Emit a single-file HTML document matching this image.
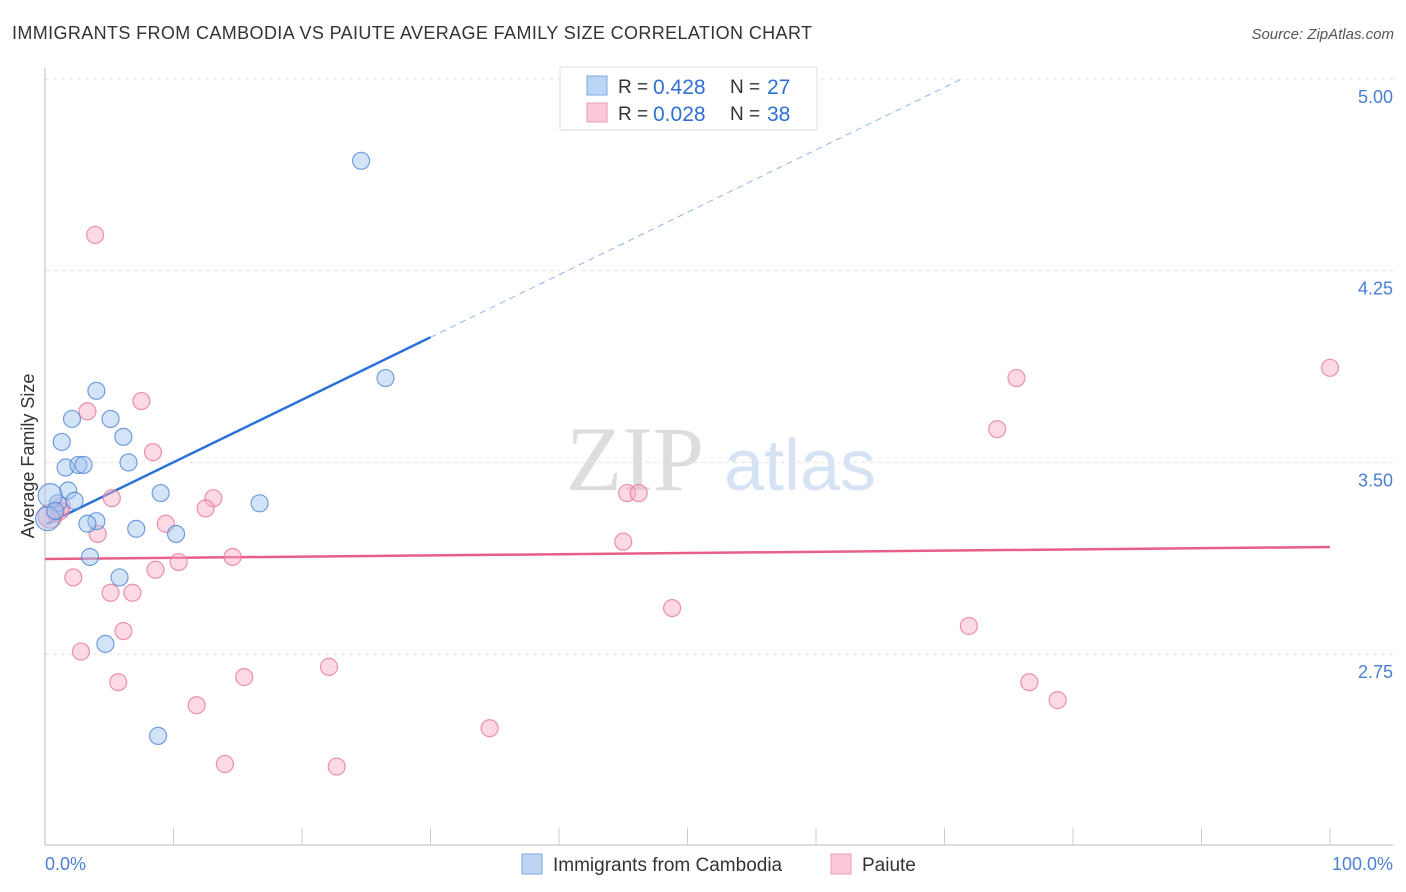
<!DOCTYPE html>
<html><head><meta charset="utf-8"><style>
body{margin:0;background:#fff;font-family:"Liberation Sans",sans-serif;}
svg{display:block}
</style></head><body>
<svg width="1406" height="892" viewBox="0 0 1406 892">
<text x="12" y="39" font-size="18" fill="#333" textLength="800">IMMIGRANTS FROM CAMBODIA VS PAIUTE AVERAGE FAMILY SIZE CORRELATION CHART</text>
<text x="1394" y="39" font-size="15" fill="#555" font-style="italic" text-anchor="end">Source: ZipAtlas.com</text>
<g><text x="635" y="490" font-size="92" fill="#ddd" font-family="Liberation Serif,serif" text-anchor="middle">ZIP</text><text x="800" y="490" font-size="72" fill="#d5e3f5" text-anchor="middle">atlas</text></g>
<g id="grid"></g>
<g id="axes"></g>
<g id="trend"></g>
<g id="pts"></g>
<text transform="translate(34,456) rotate(-90)" font-size="18" fill="#333" text-anchor="middle">Average Family Size</text>
<text x="45" y="870" font-size="18" fill="#4a7fd4">0.0%</text>
<text x="1393" y="870" font-size="18" fill="#4a7fd4" text-anchor="end">100.0%</text>
<g>
<rect x="560" y="67" width="257" height="63" fill="#fff" stroke="#ddd"/>
<rect x="587" y="76" width="20" height="19" fill="#bcd5f5" stroke="#7aa6e0"/>
<text x="618" y="93" font-size="19" fill="#333">R =</text>
<text x="653" y="94" font-size="21" fill="#2f6fd6">0.428</text>
<text x="730" y="93" font-size="19" fill="#333">N =</text>
<text x="767" y="94" font-size="21" fill="#2f6fd6">27</text>
<rect x="587" y="103" width="20" height="19" fill="#fcc9d8" stroke="#eaa0b8"/>
<text x="618" y="120" font-size="19" fill="#333">R =</text>
<text x="653" y="121" font-size="21" fill="#2f6fd6">0.028</text>
<text x="730" y="120" font-size="19" fill="#333">N =</text>
<text x="767" y="121" font-size="21" fill="#2f6fd6">38</text>
</g>
<g>
<rect x="522" y="854" width="20" height="20" fill="#bcd5f5" stroke="#7aa6e0"/>
<text x="553" y="871" font-size="19" fill="#333">Immigrants from Cambodia</text>
<rect x="831" y="854" width="20" height="20" fill="#fcc9d8" stroke="#eaa0b8"/>
<text x="862" y="871" font-size="19" fill="#333">Paiute</text>
</g>
</svg>
<script>
const yTicks=[5.00,4.25,3.50,2.75];
const blueX=[24.6,26.5,4.0,2.1,5.1,1.3,6.1,1.6,2.6,3.0,6.5,1.8,2.3,9.0,1.0,16.7,0.4,0.2,4.0,3.3,7.1,10.2,3.5,5.8,4.7,8.8,0.8];
const blueY=[4.68,3.83,3.78,3.67,3.67,3.58,3.60,3.48,3.49,3.49,3.50,3.39,3.35,3.38,3.34,3.34,3.37,3.28,3.27,3.26,3.24,3.22,3.13,3.05,2.79,2.43,3.31];
const pinkX=[3.9,7.5,3.3,8.4,5.2,13.1,12.5,45.3,46.2,9.4,4.1,1.3,0.8,45.0,14.6,10.4,8.6,2.2,5.1,6.8,48.8,6.1,2.8,22.1,15.5,5.7,11.8,34.6,14.0,22.7,75.6,74.1,100,71.9,76.6,78.8,0.4,1.2];
const pinkY=[4.39,3.74,3.70,3.54,3.36,3.36,3.32,3.38,3.38,3.26,3.22,3.33,3.30,3.19,3.13,3.11,3.08,3.05,2.99,2.99,2.93,2.84,2.76,2.70,2.66,2.64,2.55,2.46,2.32,2.31,3.83,3.63,3.87,2.86,2.64,2.57,3.29,3.31];
const blueTrend=[3.256,0.02445];
const pinkTrend=[3.122,0.00047];
const NS='http://www.w3.org/2000/svg';
const sx=v=>45+v*12.85, sy=v=>79+(5-v)*255.6;
function mk(tag,attrs,parent){const e=document.createElementNS(NS,tag);for(const k in attrs)e.setAttribute(k,attrs[k]);document.getElementById(parent).appendChild(e);return e;}
yTicks.forEach(t=>{
 const l=mk('line',{x1:45,x2:1393,y1:sy(t),y2:sy(t),stroke:'#e2e2e2','stroke-dasharray':'4,4'},'grid');
 
 
 const tx=mk('text',{x:1393,y:sy(t)+24,'font-size':18,fill:'#4a7fd4','text-anchor':'end'},'grid');
 tx.textContent=t.toFixed(2);
 
 
});
let a=mk('line',{x1:45,x2:45,y1:68,y2:845,stroke:'#bbb'},'axes');


a=mk('line',{x1:45,x2:1393,y1:845,y2:845,stroke:'#bbb'},'axes');


for(let i=1;i<=10;i++){const t=mk('line',{x1:sx(i*10),x2:sx(i*10),y1:828,y2:845,stroke:'#ccc'},'axes');
 
 }
function tr(p,x1,x2,color,dash,name){const l=mk('line',{x1:sx(x1),x2:sx(x2),y1:sy(p[0]+p[1]*x1),y2:sy(p[0]+p[1]*x2),stroke:color,'stroke-width':dash?1:2.5,'stroke-dasharray':dash?'6,5':'none'},'trend');
 
 }
tr(blueTrend,0.15,30,'#2a72d9',false,'cambodia-trendline');
tr(blueTrend,30,(5-blueTrend[0])/blueTrend[1],'#8fb4e8',true,'cambodia-trendline-extension');
tr(pinkTrend,0,100,'#e8608a',false,'paiute-trendline');
function pts(xs,ys,fill,stroke,name){xs.forEach((x,i)=>{const big=(x<0.5);const c=mk('circle',{cx:sx(x),cy:sy(ys[i]),r:big?12:8.5,fill:fill,stroke:stroke,'stroke-width':1.2},'pts');
 
 });}
pts(pinkX,pinkY,'rgba(249,170,195,0.45)','rgba(232,120,155,0.8)','paiute-point');
pts(blueX,blueY,'rgba(160,195,240,0.45)','rgba(80,135,215,0.8)','cambodia-point');
</script>
</body></html>
